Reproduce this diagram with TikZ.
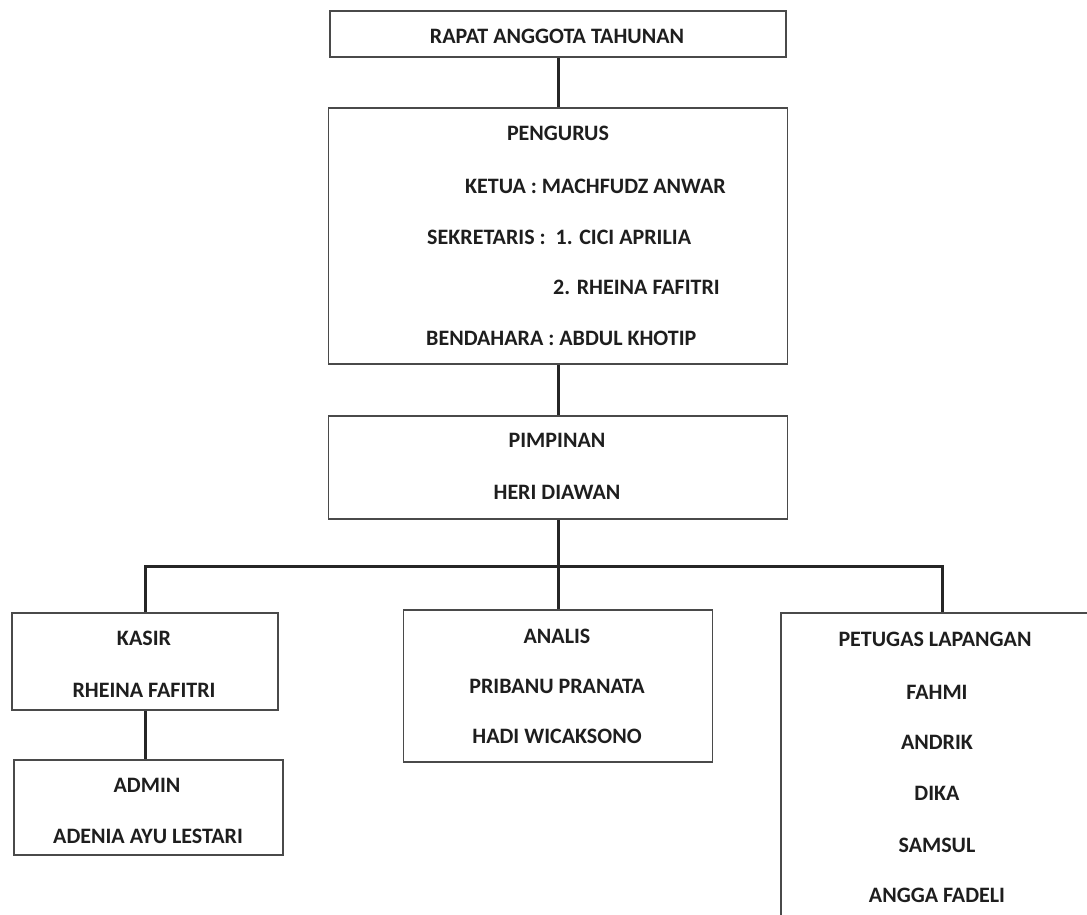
\documentclass[tikz,border=0pt]{standalone}
\usepackage{fontspec}
\setmainfont{Carlito}
\definecolor{boxgray}{HTML}{4A4A4A}
\definecolor{lineC}{HTML}{262626}
\definecolor{textc}{HTML}{1E1E1E}
\begin{document}
\begin{tikzpicture}[x=1pt,y=-1pt]
\tikzset{
  box/.style={draw=boxgray, line width=1.8pt, inner sep=0pt, fill=white},
  lbl/.style={inner sep=0pt, anchor=base, font=\fontsize{22}{26}\selectfont\bfseries, text=textc},
  lblw/.style={lbl, anchor=base west},
  conn/.style={draw=lineC, line width=3pt},
}
\useasboundingbox (0,0) rectangle (1087,914);
\fill[white] (0,0) rectangle (1087,914);

% boxes
\node[box, minimum width=456pt, minimum height=46pt] (top) at (558,34) {};
\node[box, minimum width=459pt, minimum height=256pt] (peng) at (558,236) {};
\node[box, minimum width=459pt, minimum height=103pt] (pimp) at (558,467.5) {};
\node[box, minimum width=266pt, minimum height=97pt] (kasir) at (145,661.5) {};
\node[box, minimum width=269pt, minimum height=95pt] (admin) at (148.5,807.5) {};
\node[box, minimum width=309pt, minimum height=152pt] (analis) at (558,686) {};
\begin{scope}
  \clip (0,0) rectangle (1087,914);
  \node[box, minimum width=322pt, minimum height=337pt] (petugas) at (942,781.5) {};
\end{scope}

% connectors
\coordinate (bus) at (0,566);
\draw[conn] (top.south) -- (peng.north);
\draw[conn] (peng.south) -- (pimp.north);
\draw[conn] (pimp.south) -- (analis.north);
\draw[conn] (kasir.north) -- (kasir.north |- bus) -- (petugas.north |- bus) -- (petugas.north);
\draw[conn] (kasir.south) -- (kasir.south |- admin.north);

% texts
\node[lbl] (t1) at (557,43) {RAPAT ANGGOTA TAHUNAN};

\node[lbl] (p0) at (558,140) {PENGURUS};
\node[lblw] (p1) at (465,193) {KETUA : MACHFUDZ ANWAR};
\node[lblw] (p2) at (427,244) {SEKRETARIS :\ \ 1. CICI APRILIA};
\node[lblw] (p3) at (553,294) {2. RHEINA FAFITRI};
\node[lblw] (p4) at (426,345) {BENDAHARA : ABDUL KHOTIP};

\node[lbl] (m0) at (557,447) {PIMPINAN};
\node[lbl] (m1) at (557,499) {HERI DIAWAN};

\node[lbl] (k0) at (144,645) {KASIR};
\node[lbl] (k1) at (144,697) {RHEINA FAFITRI};

\node[lbl] (a0) at (147,792) {ADMIN};
\node[lbl] (a1) at (148,843) {ADENIA AYU LESTARI};

\node[lbl] (n0) at (557,643) {ANALIS};
\node[lbl] (n1) at (557,693) {PRIBANU PRANATA};
\node[lbl] (n2) at (557,743) {HADI WICAKSONO};

\node[lbl] (g0) at (935,646) {PETUGAS LAPANGAN};
\node[lbl] (g1) at (937,699) {FAHMI};
\node[lbl] (g2) at (937,749) {ANDRIK};
\node[lbl] (g3) at (937,800) {DIKA};
\node[lbl] (g4) at (937,852) {SAMSUL};
\node[lbl] (g5) at (937,902) {ANGGA FADELI};
\end{tikzpicture}
\end{document}
